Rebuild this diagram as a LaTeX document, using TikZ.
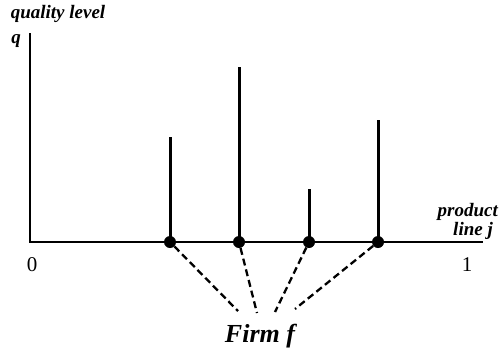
\documentclass[tikz,border=0pt]{standalone}
\usepackage{fontspec}
\setmainfont{Liberation Serif}
\begin{document}
\begin{tikzpicture}[x=1pt,y=-1pt,
  every node/.style={inner sep=0pt},
  lbl/.style={font=\fontsize{19}{21}\selectfont\bfseries\itshape},
  dot/.style={circle,fill=black,minimum size=12pt},
  stem/.style={line width=3pt},
  link/.style={line width=2.3pt,dash pattern=on 7pt off 4pt}]
  \useasboundingbox (0,0) rectangle (500,349);
  % axes
  \coordinate (o) at (30,242);
  \coordinate (qtop) at (30,33);
  \coordinate (jend) at (483,242);
  \draw[line width=1.3pt] (qtop) -- (o) -- (jend);

  \node[lbl] (ql) at (58,14) {quality level};
  \node[lbl] (q) at (16,41) {q};
  \node[lbl,anchor=east] (prod) at (498,212) {product};
  \node[lbl,anchor=east] (line) at (493,231) {line j};
  \node[font=\fontsize{21}{23}\selectfont] (zero) at (32,265) {0};
  \node[font=\fontsize{21}{23}\selectfont] (one) at (467,265) {1};

  % product lines of the firm
  \node[dot] (d1) at (170,242) {};
  \node[dot] (d2) at (239,242) {};
  \node[dot] (d3) at (309,242) {};
  \node[dot] (d4) at (378,242) {};
  \coordinate (t1) at (170,137);
  \coordinate (t2) at (239,67);
  \coordinate (t3) at (309,189);
  \coordinate (t4) at (378,120);
  \draw[stem] (d1.center) -- (t1);
  \draw[stem] (d2.center) -- (t2);
  \draw[stem] (d3.center) -- (t3);
  \draw[stem] (d4.center) -- (t4);

  \node[font=\fontsize{26}{28}\selectfont\bfseries\itshape] (firm) at (260,336) {Firm f};
  \coordinate (f1) at (238,311);
  \coordinate (f2) at (257,313);
  \coordinate (f3) at (275,312);
  \coordinate (f4) at (295,309);
  \draw[link] (d1) -- (f1);
  \draw[link] (d2) -- (f2);
  \draw[link] (d3) -- (f3);
  \draw[link] (d4) -- (f4);
\end{tikzpicture}
\end{document}
